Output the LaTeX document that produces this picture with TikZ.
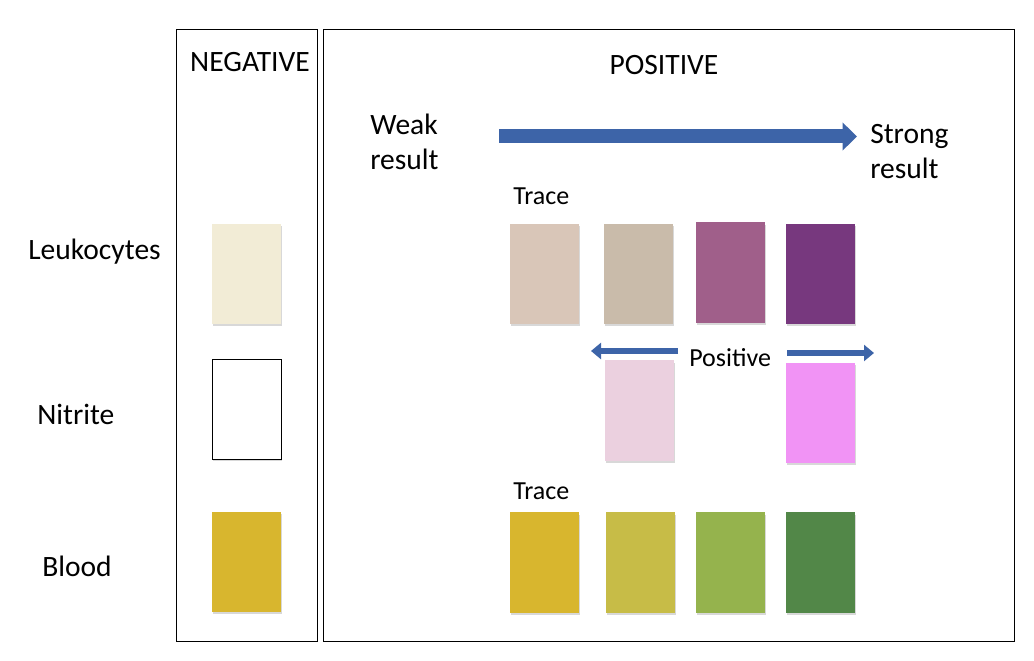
\documentclass[tikz,border=0pt]{standalone}
\usepackage{fontspec}
\setmainfont{Carlito}
\usetikzlibrary{arrows.meta,shadows}
\definecolor{arrowblue}{RGB}{61,100,168}
\definecolor{negleuko}{RGB}{242,236,214}
\definecolor{leukoa}{RGB}{217,198,184}
\definecolor{leukob}{RGB}{201,187,170}
\definecolor{leukoc}{RGB}{160,95,138}
\definecolor{leukod}{RGB}{119,56,126}
\definecolor{nitra}{RGB}{235,208,223}
\definecolor{nitrb}{RGB}{241,147,245}
\definecolor{blooda}{RGB}{216,182,46}
\definecolor{bloodb}{RGB}{199,188,71}
\definecolor{bloodc}{RGB}{149,179,77}
\definecolor{bloodd}{RGB}{82,135,72}
\tikzset{
  panel/.style={draw=black,line width=0.7pt,fill=white,minimum width=#1,minimum height=15.275cm,inner sep=0pt},
  pad/.style={minimum width=1.725cm,minimum height=2.5cm,inner sep=0pt,
    drop shadow={shadow xshift=0.6pt,shadow yshift=-1.6pt,opacity=0.3}},
  head/.style={font=\fontsize{21}{25}\selectfont,anchor=base,inner sep=0pt},
  rowlabel/.style={font=\fontsize{21}{25}\selectfont,anchor=base west,inner sep=0pt},
  note/.style={font=\fontsize{18.5}{22}\selectfont,anchor=base west,inner sep=0pt},
  bigarrow/.style={-{Triangle[length=0.36cm,width=0.68cm]},draw=arrowblue,line width=0.35cm},
  smallarrow/.style={-{Triangle[length=0.25cm,width=0.4cm]},draw=arrowblue,line width=0.15cm}
}

\begin{document}
\begin{tikzpicture}[x=0.025cm,y=-0.025cm]
\useasboundingbox[fill=white] (0,0) rectangle (1034,661);
% the two panels
\node[panel=3.5cm] (negpanel) at (247,335.5) {};
\node[panel=17.25cm] (pospanel) at (669,335.5) {};
\node[head] (neg) at (250,72) {NEGATIVE};
\node[head] (pos) at (664,75) {POSITIVE};

% row labels
\node[rowlabel] (leuko) at (28,260) {Leukocytes};
\node[rowlabel] (nitrite) at (37,425) {Nitrite};
\node[rowlabel] (blood) at (42,577) {Blood};

% strength scale
\node[font=\fontsize{21}{25}\selectfont,align=left,anchor=north west,inner sep=0pt] (weak) at (370,114) {Weak\\result};
\node[font=\fontsize{21}{25}\selectfont,align=left,anchor=north west,inner sep=0pt] (strong) at (870,124) {Strong\\result};
\coordinate (scalefrom) at (499,136.5);
\coordinate (scaleto) at (857,136.5);
\draw[bigarrow] (scalefrom) -- (scaleto);

% negative pads
\node[pad,fill=negleuko] (negL) at (246.5,274) {};
\node[pad,fill=white,draw=black,line width=0.6pt] (negN) at (246.5,409) {};
\node[pad,fill=blooda] (negB) at (246.5,562) {};

% leukocytes
\node[note] (traceL) at (513,205) {Trace};
\node[pad,fill=leukoa] (L1) at (544.5,274) {};
\node[pad,fill=leukob] (L2) at (638.5,274) {};
\node[pad,fill=leukoc] (L3) at (730.5,272.5) {};
\node[pad,fill=leukod] (L4) at (820.5,274) {};

% nitrite
\node[pad,fill=nitra] (N1) at (639.5,410.5) {};
\node[pad,fill=nitrb] (N2) at (820.5,413) {};
\node[note] (posN) at (689,367) {Positive};
\coordinate (nleftfrom) at (678,351);
\coordinate (nleftto) at (591,351);
\coordinate (nrightfrom) at (787,353);
\coordinate (nrightto) at (874,353);
\draw[smallarrow] (nleftfrom) -- (nleftto);
\draw[smallarrow] (nrightfrom) -- (nrightto);

% blood
\node[note] (traceB) at (513,500) {Trace};
\node[pad,fill=blooda] (B1) at (544.5,562.5) {};
\node[pad,fill=bloodb] (B2) at (640.5,562.5) {};
\node[pad,fill=bloodc] (B3) at (730.5,562.5) {};
\node[pad,fill=bloodd] (B4) at (820.5,562.5) {};
\end{tikzpicture}
\end{document}
